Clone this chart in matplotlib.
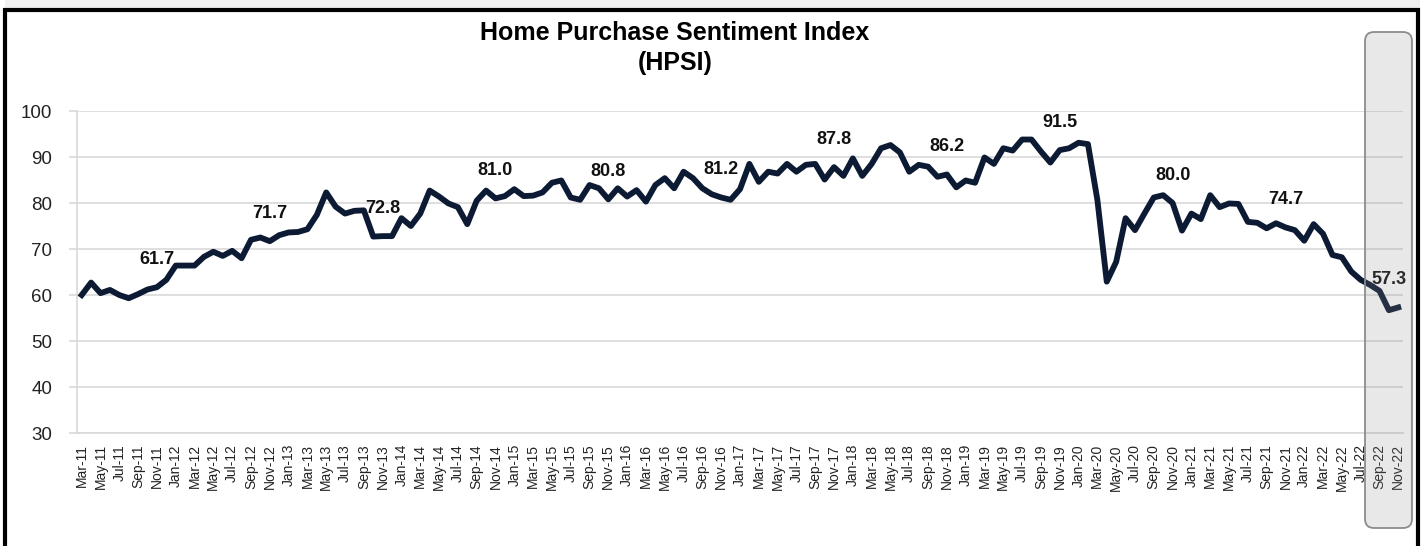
import matplotlib
matplotlib.use("Agg")
import matplotlib.pyplot as plt
from matplotlib.patches import Rectangle, FancyBboxPatch
from matplotlib.transforms import IdentityTransform
import pandas as pd

plt.rcParams['font.family'] = ['Liberation Sans', 'DejaVu Sans']

# Monthly HPSI values, Mar-2011 .. Nov-2022
hpsi_2011 = [60.0, 62.7, 60.4, 61.1, 60.0, 59.3, 60.2, 61.2, 61.7, 63.3]
hpsi_2012 = [66.4, 66.4, 66.4, 68.3, 69.4, 68.5, 69.6, 68.0, 72.0, 72.5, 71.7, 73.0]
hpsi_2013 = [73.6, 73.7, 74.3, 77.4, 82.3, 79.2, 77.7, 78.3, 78.4, 72.7, 72.8, 72.8]
hpsi_2014 = [76.7, 75.0, 77.7, 82.7, 81.4, 79.9, 79.1, 75.4, 80.5, 82.7, 81.0, 81.5]
hpsi_2015 = [83.0, 81.5, 81.6, 82.3, 84.4, 84.9, 81.2, 80.7, 83.9, 83.2, 80.8, 83.2]
hpsi_2016 = [81.4, 82.8, 80.3, 83.9, 85.4, 83.2, 86.8, 85.4, 83.2, 81.9, 81.2, 80.7]
hpsi_2017 = [83.0, 88.5, 84.6, 86.8, 86.4, 88.5, 86.8, 88.3, 88.5, 85.1, 87.8, 85.9]
hpsi_2018 = [89.7, 85.9, 88.5, 91.9, 92.6, 91.0, 86.8, 88.3, 87.9, 85.7, 86.2, 83.4]
hpsi_2019 = [84.9, 84.4, 89.9, 88.5, 91.9, 91.4, 93.8, 93.8, 91.2, 88.8, 91.5, 91.9]
hpsi_2020 = [93.1, 92.8, 80.7, 62.9, 67.2, 76.7, 74.1, 77.7, 81.2, 81.7, 80.0, 74.0]
hpsi_2021 = [77.7, 76.5, 81.7, 79.1, 79.9, 79.8, 75.9, 75.7, 74.5, 75.6, 74.7, 74.1]
hpsi_2022 = [71.8, 75.4, 73.3, 68.7, 68.2, 65.1, 63.3, 62.2, 60.9, 56.7, 57.3]

values = (hpsi_2011 + hpsi_2012 + hpsi_2013 + hpsi_2014 + hpsi_2015 + hpsi_2016
          + hpsi_2017 + hpsi_2018 + hpsi_2019 + hpsi_2020 + hpsi_2021 + hpsi_2022)
months = pd.date_range("2011-03-01", periods=len(values), freq="MS")
month_labels = [m.strftime("%b-%y") for m in months]

# November readings are labelled on the chart
label_idx = [i for i, m in enumerate(months) if m.month == 11]

line_color = '#0c1a33'
grid_color = '#d9d9d9'

W, H = 1426, 546
fig = plt.figure(figsize=(W / 100, H / 100), dpi=100)
ax = fig.add_axes([77 / W, 1 - 433 / H, 1326 / W, 322 / H])

x = list(range(len(values)))
ax.plot(x, values, color=line_color, lw=4.2, solid_joinstyle='round', zorder=3)

for i in label_idx:
    dx = -7 if i == len(values) - 1 else 0
    ax.annotate(f"{values[i]:.1f}", (i, values[i]), xytext=(dx, 20),
                textcoords='offset points', ha='center', va='center',
                fontsize=13, fontweight='bold', color='#111111', zorder=4)

ax.set_xlim(-0.5, len(values) - 0.5)
ax.set_ylim(30, 100)
ax.set_yticks(range(30, 101, 10))
ax.set_xticks(x[::2])
ax.set_xticklabels(month_labels[::2], rotation=90, fontsize=10, color='#222222')
ax.tick_params(axis='y', labelsize=13.5, colors='#222222', length=6,
               color=grid_color, width=1.2, pad=12)
ax.tick_params(axis='x', length=0, pad=8)
ax.grid(axis='y', color=grid_color, lw=1.2)
ax.set_axisbelow(True)
for s in ['top', 'right']:
    ax.spines[s].set_visible(False)
for s in ['left', 'bottom']:
    ax.spines[s].set_color(grid_color)
    ax.spines[s].set_linewidth(1.2)

fig.text(675 / W, 1 - 33 / H, "Home Purchase Sentiment Index", ha='center',
         va='center', fontsize=18, fontweight='bold')
fig.text(675 / W, 1 - 63 / H, "(HPSI)", ha='center', va='center',
         fontsize=18, fontweight='bold')

# light strip above the frame, then the black outer frame (open at the bottom)
fig.add_artist(Rectangle((5, H - 9), 1415, 9, transform=IdentityTransform(),
                         facecolor='#f0f0f0', edgecolor='none', zorder=-1))
fig.add_artist(Rectangle((5, -20), 1413, H - 10 + 20, transform=IdentityTransform(),
                         facecolor='none', edgecolor='black', lw=3, zorder=10))

# highlight box over the latest months
fig.add_artist(FancyBboxPatch((1365, 18), 47, 496,
                              boxstyle="round,pad=0,rounding_size=9",
                              transform=IdentityTransform(),
                              facecolor=(0.55, 0.55, 0.55, 0.2),
                              edgecolor='#8c8c8c', lw=1.3, zorder=6))

fig.savefig("out.png", dpi=100)
